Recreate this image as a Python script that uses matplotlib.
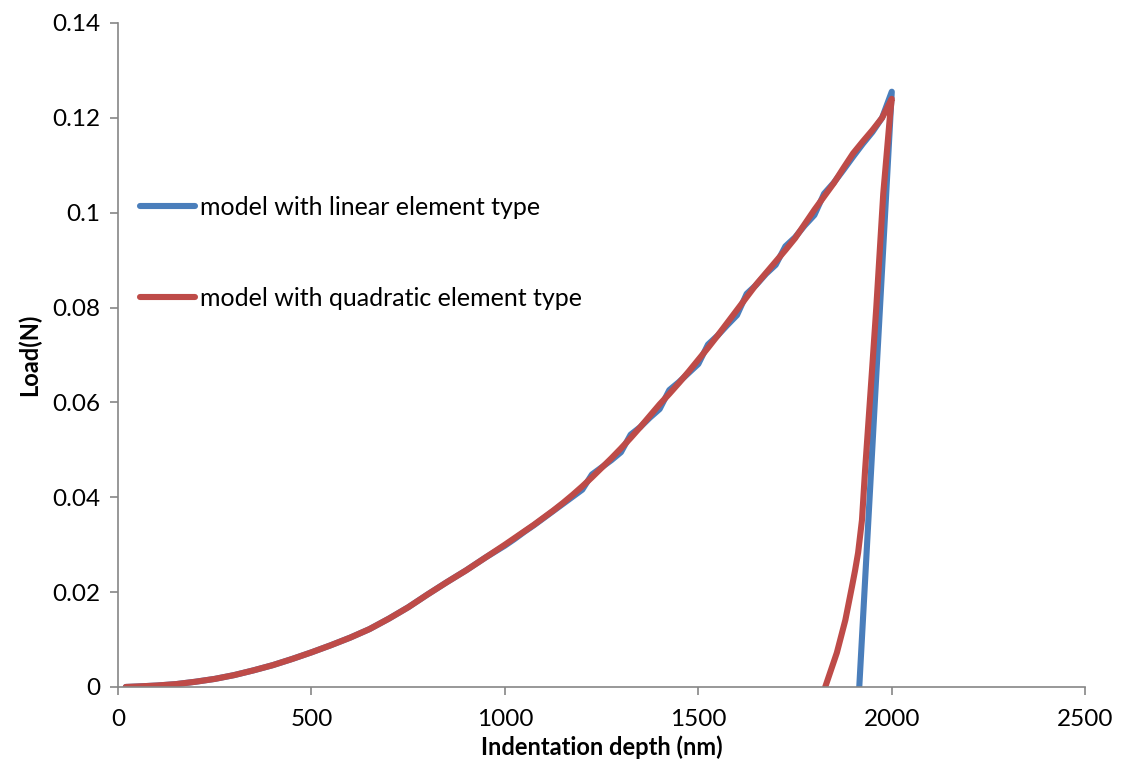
import matplotlib.pyplot as plt
from matplotlib.ticker import FuncFormatter

# loading branch, shared below 1000 nm
depth_low = [20, 50, 100, 150, 200, 250, 300, 350, 400, 450,
             500, 550, 600, 650, 700, 750, 800, 850, 900, 950]
load_low = [0.0, 0.0001, 0.0003, 0.0006, 0.0011, 0.0017, 0.0025, 0.0035, 0.0046, 0.0059,
            0.0073, 0.0088, 0.0104, 0.0122, 0.0144, 0.0168, 0.0195, 0.0221, 0.0246, 0.0273]

# loading branch above 1000 nm (25 nm steps)
depth_high = [1000, 1025, 1050, 1075, 1100, 1125, 1150, 1175, 1200, 1225,
              1250, 1275, 1300, 1325, 1350, 1375, 1400, 1425, 1450, 1475,
              1500, 1525, 1550, 1575, 1600, 1625, 1650, 1675, 1700, 1725,
              1750, 1775, 1800, 1825, 1850, 1875, 1900, 1925, 1950, 1975, 2000]
load_linear = [0.0298, 0.0312, 0.0327, 0.0341, 0.0356, 0.0371, 0.0386, 0.0401, 0.0416, 0.0448,
               0.0463, 0.0478, 0.0495, 0.0532, 0.0548, 0.0568, 0.0586, 0.0626, 0.0643, 0.0662,
               0.0681, 0.0722, 0.0741, 0.0763, 0.0784, 0.0829, 0.0848, 0.0871, 0.0890, 0.0929,
               0.0948, 0.0973, 0.0995, 0.1040, 0.1063, 0.1090, 0.1118, 0.1145, 0.1170, 0.1200, 0.1255]
load_quad = [0.0300, 0.0314, 0.0328, 0.0342, 0.0357, 0.0372, 0.0388, 0.0405, 0.0423, 0.0442,
             0.0462, 0.0482, 0.0503, 0.0525, 0.0548, 0.0572, 0.0596, 0.0618, 0.0641, 0.0665,
             0.0690, 0.0715, 0.0741, 0.0768, 0.0795, 0.0822, 0.0849, 0.0873, 0.0897, 0.0921,
             0.0946, 0.0976, 0.1006, 0.1034, 0.1062, 0.1094, 0.1125, 0.1150, 0.1174, 0.1200, 0.1240]

# unloading branches
unload_linear_depth = [2000, 1916]
unload_linear_load = [0.1255, 0.0]
unload_quad_depth = [2000, 1996, 1978, 1960, 1949, 1931, 1923, 1913, 1905, 1897, 1880, 1858, 1828]
unload_quad_load = [0.1240, 0.1210, 0.1040, 0.0800, 0.0668, 0.0457, 0.0352, 0.0283, 0.0245, 0.0211, 0.0141, 0.0072, 0.0]

blue = '#4A7EBB'
red = '#BE4B48'
grey = '#868686'

plt.rcParams['font.family'] = ['Lato', 'DejaVu Sans']

fig = plt.figure(figsize=(11.22, 7.65), dpi=100)
ax = fig.add_axes([0.1052, 0.102, 0.862, 0.868])

x_lin = depth_low + depth_high + unload_linear_depth
y_lin = load_low + load_linear + unload_linear_load
x_quad = depth_low + depth_high + unload_quad_depth
y_quad = load_low + load_quad + unload_quad_load

ax.plot(x_lin, y_lin, color=blue, lw=4.4, solid_capstyle='round', solid_joinstyle='round',
        label='model with linear element type')
ax.plot(x_quad, y_quad, color=red, lw=4.4, solid_capstyle='round', solid_joinstyle='round',
        label='model with quadratic element type')

ax.set_xlim(0, 2500)
ax.set_ylim(0, 0.14)
ax.set_xticks(range(0, 2501, 500))
ax.set_yticks([i * 0.02 for i in range(8)])
ax.yaxis.set_major_formatter(FuncFormatter(lambda v, p: '%g' % round(v, 2)))

for s in ['top', 'right']:
    ax.spines[s].set_visible(False)
for s in ['left', 'bottom']:
    ax.spines[s].set_color(grey)
    ax.spines[s].set_linewidth(1.2)
ax.tick_params(direction='out', length=6, width=1.2, color=grey, labelsize=17.5, pad=7)
ax.tick_params(axis='x', pad=10)

ax.set_xlabel('Indentation depth (nm)', fontsize=17, fontweight='bold', labelpad=4)
ax.set_ylabel('Load(N)', fontsize=17, fontweight='bold', labelpad=8)

ax.legend(loc='upper left', bbox_to_anchor=(0.005, 0.766), frameon=False, fontsize=18,
          handlelength=2.2, handletextpad=0.2, labelspacing=2.72, borderaxespad=0.3)

fig.savefig('out.png', dpi=100)
